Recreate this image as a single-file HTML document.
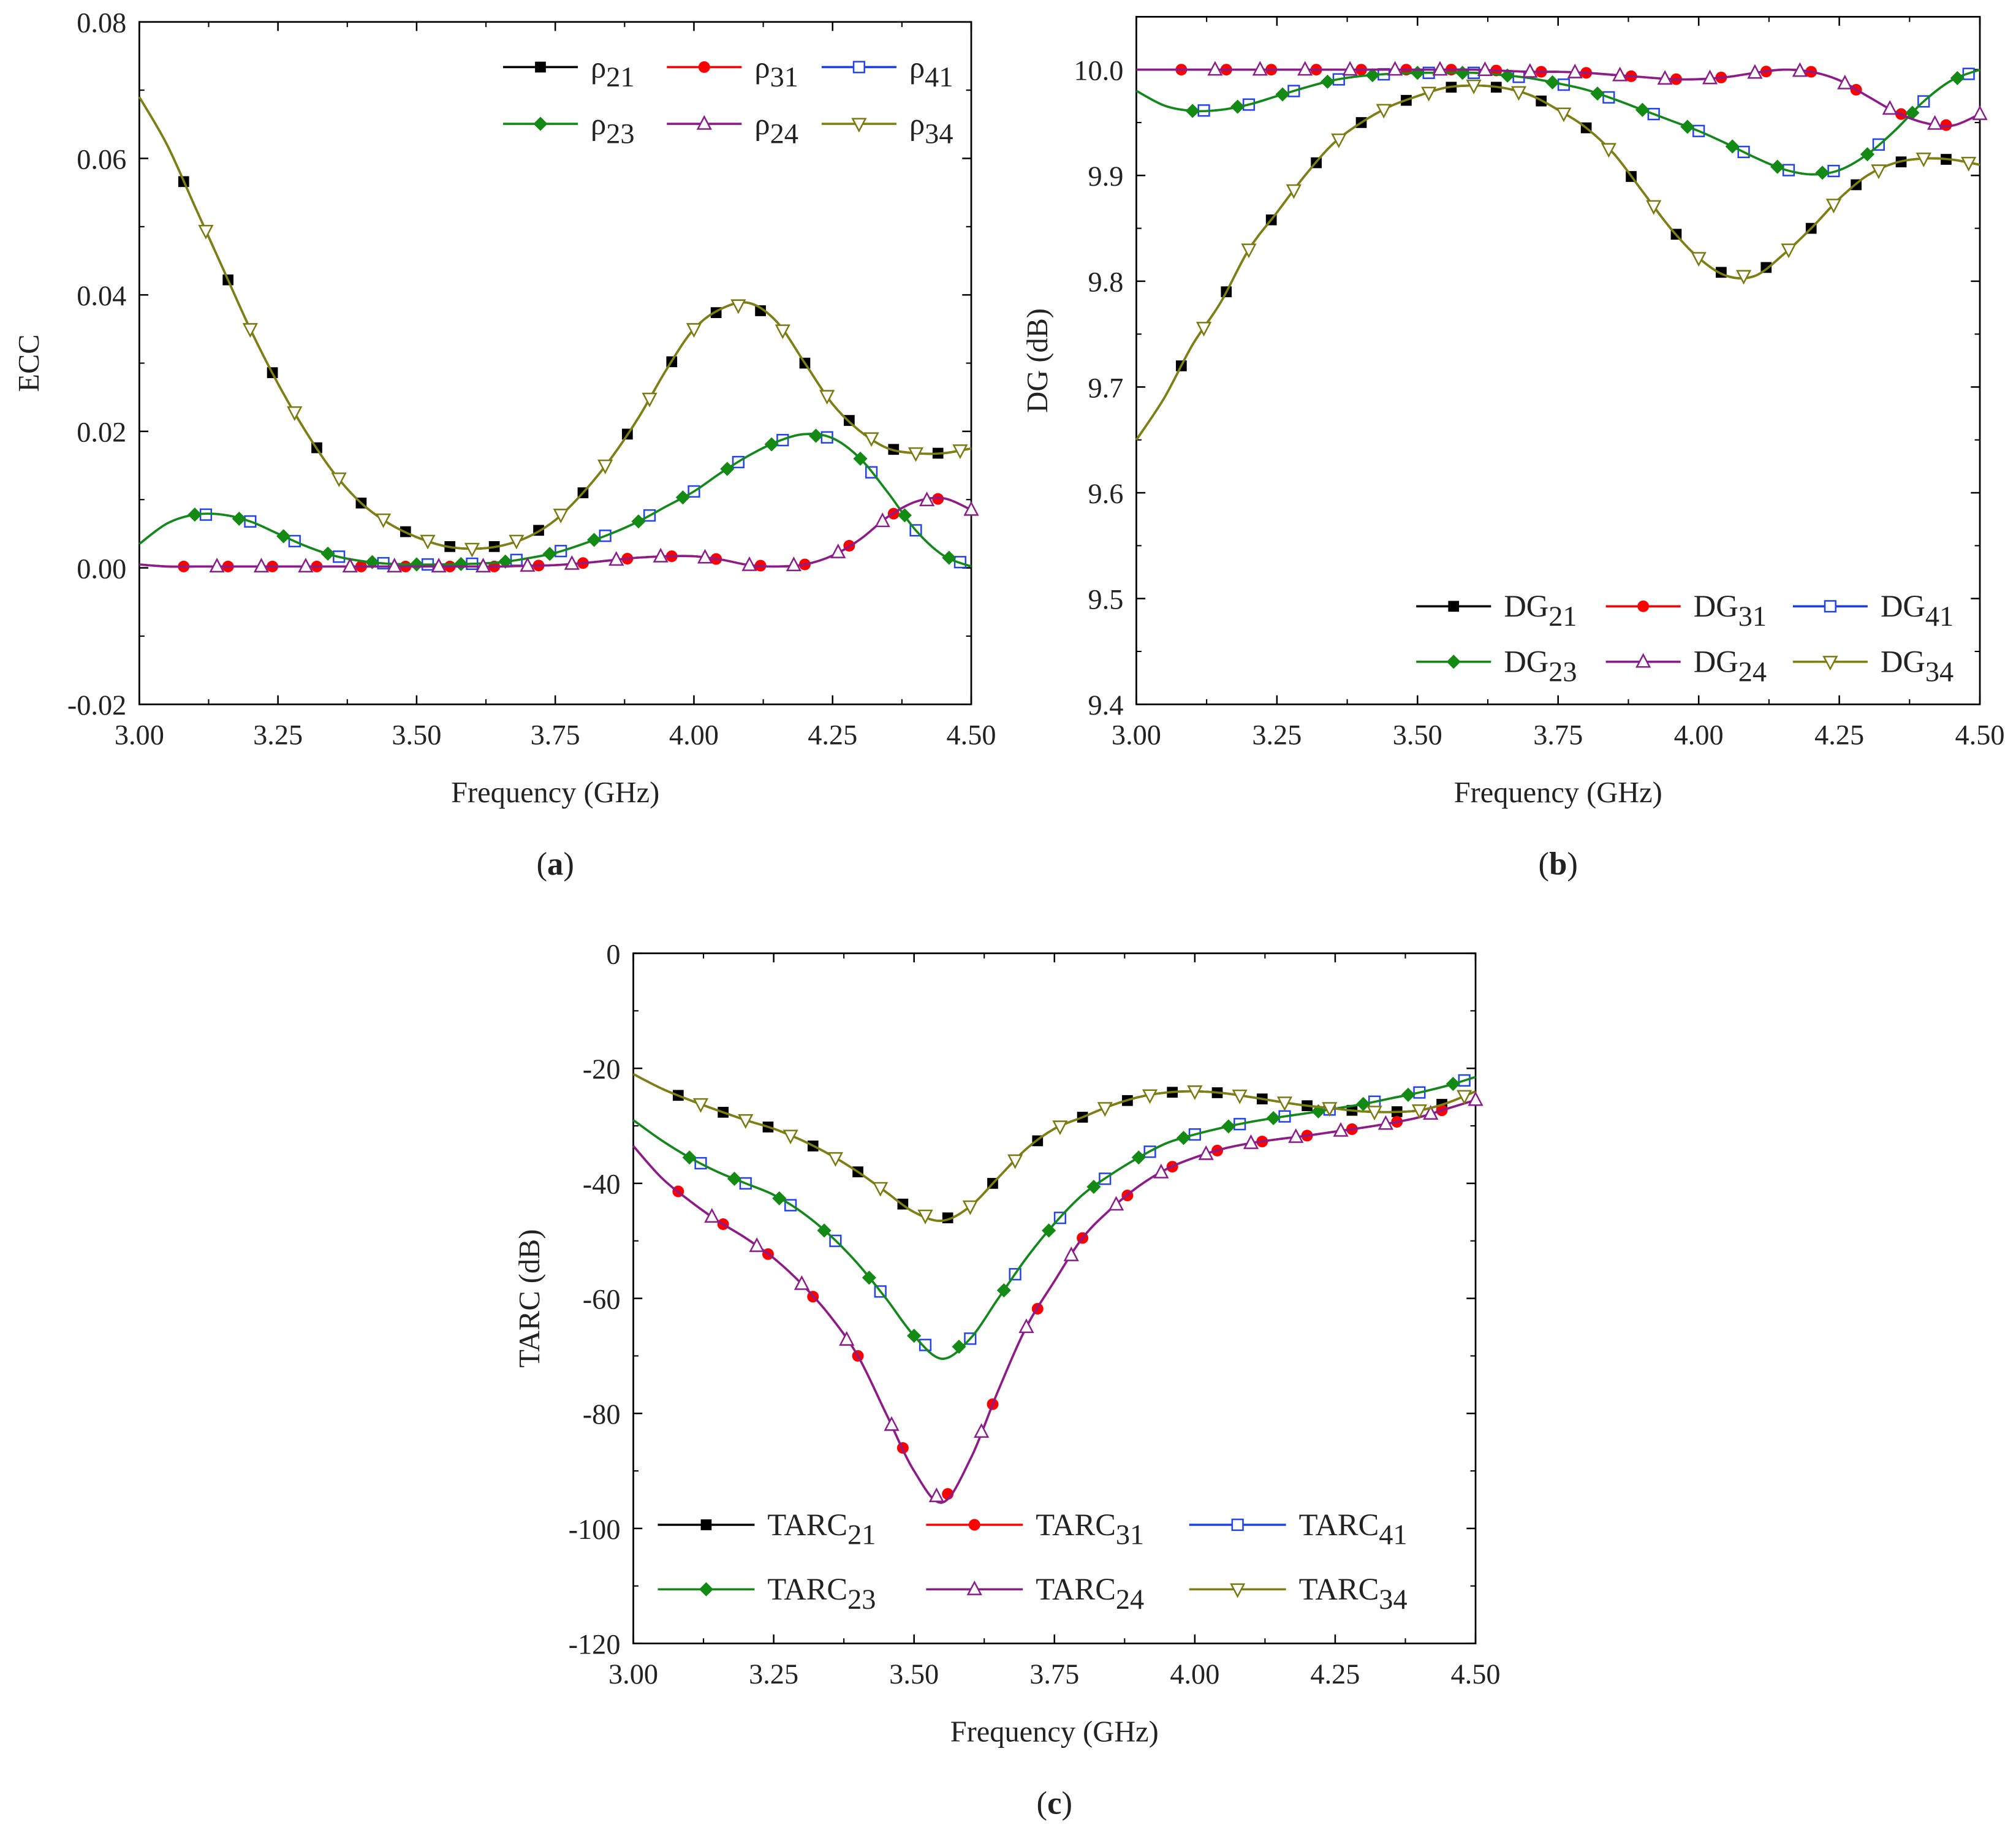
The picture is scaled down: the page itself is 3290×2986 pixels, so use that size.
<!DOCTYPE html>
<html><head><meta charset="utf-8">
<style>
html,body{margin:0;padding:0;background:#fff;}
svg{display:block;}
text{font-family:"Liberation Serif",serif;fill:#222;}
</style></head>
<body>
<svg id="fig" width="3290" height="2986" viewBox="0 0 1563 1418.6" xmlns="http://www.w3.org/2000/svg"></svg>
<script>
// ---------- data ----------
const freqs = [3.00,3.05,3.10,3.15,3.20,3.25,3.30,3.35,3.40,3.45,3.50,3.55,3.60,3.65,3.70,3.75,3.80,3.85,3.90,3.95,4.00,4.05,4.10,4.15,4.20,4.25,4.30,4.35,4.40,4.45,4.50];
const ecc21 = [0.069,0.062,0.053,0.044,0.035,0.027,0.020,0.014,0.0095,0.0065,0.0045,0.0032,0.0028,0.0032,0.0045,0.007,0.011,0.016,0.022,0.029,0.035,0.038,0.0388,0.036,0.030,0.024,0.020,0.0175,0.0168,0.0168,0.0175];
const ecc23 = [0.0035,0.0065,0.0078,0.0078,0.0068,0.005,0.0032,0.0018,0.001,0.0006,0.0005,0.0005,0.0006,0.0008,0.0014,0.0022,0.0035,0.005,0.0068,0.009,0.0112,0.014,0.0165,0.0185,0.0196,0.019,0.016,0.011,0.0055,0.0018,0.0002];
const ecc31 = [0.0005,0.0002,0.0002,0.0002,0.0002,0.0002,0.0002,0.0002,0.0002,0.0002,0.0002,0.0002,0.0002,0.0002,0.0003,0.0004,0.0007,0.0011,0.0015,0.0017,0.0017,0.0012,0.0004,0.0002,0.0005,0.0018,0.0042,0.0075,0.0097,0.0102,0.0085];
const dg21 = [9.65,9.69,9.74,9.78,9.83,9.865,9.9,9.93,9.95,9.965,9.975,9.983,9.985,9.983,9.976,9.962,9.945,9.92,9.885,9.85,9.822,9.805,9.805,9.825,9.85,9.878,9.9,9.912,9.916,9.915,9.91];
const dg23 = [9.98,9.966,9.961,9.962,9.967,9.975,9.983,9.99,9.994,9.996,9.997,9.997,9.997,9.995,9.992,9.987,9.981,9.972,9.962,9.952,9.942,9.93,9.917,9.906,9.901,9.905,9.92,9.943,9.97,9.99,10.0];
const dg31 = [10.0,10.0,10.0,10.0,10.0,10.0,10.0,10.0,10.0,10.0,10.0,10.0,10.0,9.999,9.998,9.998,9.997,9.995,9.993,9.991,9.991,9.993,9.997,10.0,9.998,9.99,9.975,9.96,9.95,9.947,9.958];
const tarc21 = [-21,-23.5,-25.5,-27.3,-29,-30.5,-32.5,-35,-38,-41.5,-45,-46.5,-44,-39,-34,-30.5,-28.5,-26.5,-25,-24.2,-24,-24.3,-25,-25.8,-26.5,-27,-27.5,-27.6,-27.3,-26,-24];
const tarc23 = [-29,-32.5,-35.5,-38,-40,-42,-45,-49,-54,-60,-66.5,-70.5,-67,-60,-53,-47,-42,-38.5,-35.5,-33,-31.5,-30.3,-29.3,-28.5,-27.8,-27,-26.2,-25.2,-24.2,-23,-21.5];
const tarc31 = [-33.5,-39,-43,-46.5,-49.5,-53,-57.5,-63,-70,-80,-90,-95.5,-88,-76,-65,-57,-49.5,-44.5,-40.5,-37.5,-35.5,-34,-33,-32.3,-31.7,-31,-30.3,-29.5,-28.5,-27,-25.5];
const xTicks = ["3.00","3.25","3.50","3.75","4.00","4.25","4.50"];
const eccTicks = ["-0.02","0.00","0.02","0.04","0.06","0.08"];
const dgTicks = ["9.4","9.5","9.6","9.7","9.8","9.9","10.0"];
const tarcTicks = ["-120","-100","-80","-60","-40","-20","0"];

// ---------- helpers ----------
const NS="http://www.w3.org/2000/svg";
const svg=document.getElementById('fig');
function mk(tag,attrs,parent){const e=document.createElementNS(NS,tag);for(const k in attrs)e.setAttribute(k,attrs[k]);(parent||svg).appendChild(e);return e;}
function interp(arr,f){
  const i=Math.min(freqs.length-2,Math.max(0,Math.floor((f-3.0)/0.05+1e-9)));
  const t=(f-freqs[i])/(freqs[i+1]-freqs[i]);return arr[i]+(arr[i+1]-arr[i])*t;}
function smoothPath(pts){
  let d=`M${pts[0][0]},${pts[0][1]}`;
  for(let i=0;i<pts.length-1;i++){
    const p0=pts[Math.max(0,i-1)],p1=pts[i],p2=pts[i+1],p3=pts[Math.min(pts.length-1,i+2)];
    const c1=[p1[0]+(p2[0]-p0[0])/6,p1[1]+(p2[1]-p0[1])/6];
    const c2=[p2[0]-(p3[0]-p1[0])/6,p2[1]-(p3[1]-p1[1])/6];
    d+=`C${c1[0]},${c1[1]} ${c2[0]},${c2[1]} ${p2[0]},${p2[1]}`;}
  return d;}
function marker(g,type,color,x,y){
  const s=4.2;let e;
  if(type==='sq'){e=mk('rect',{x:x-s,y:y-s,width:2*s,height:2*s,fill:'#000'},g);}
  else if(type==='circ'){e=mk('circle',{cx:x,cy:y,r:4.5,fill:'#f00'},g);}
  else if(type==='osq'){e=mk('rect',{x:x-s,y:y-s,width:2*s,height:2*s,fill:'#fff',stroke:'#2244ee','stroke-width':1.2},g);}
  else if(type==='dia'){e=mk('polygon',{points:`${x},${y-5.5} ${x+5.5},${y} ${x},${y+5.5} ${x-5.5},${y}`,fill:'#138a13'},g);}
  else if(type==='tri'){e=mk('polygon',{points:`${x},${y-5.5} ${x+5},${y+4} ${x-5},${y+4}`,fill:'#fff',stroke:'#8b1c8b','stroke-width':1.2},g);}
  else {e=mk('polygon',{points:`${x},${y+5.5} ${x+5},${y-4} ${x-5},${y-4}`,fill:'#fff',stroke:'#7a7a10','stroke-width':1.2},g);}
  
  
}
const styles=[
  {type:'sq',color:'#000',off:3.00},
  {type:'circ',color:'#f00',off:3.00},
  {type:'osq',color:'#1a3fe6',off:3.04},
  {type:'dia',color:'#138a13',off:3.02},
  {type:'tri',color:'#8b1c8b',off:3.06},
  {type:'inv',color:'#808010',off:3.04}];

function panel(cfg){
  const g=mk('g',{});
  
  
  const X=f=>cfg.x0+(f-3.0)/1.5*(cfg.x1-cfg.x0);
  const Y=v=>cfg.yb+(v-cfg.vmin)/(cfg.vmax-cfg.vmin)*(cfg.yt-cfg.yb);
  const fr=mk('rect',{x:cfg.x0,y:cfg.top,width:cfg.x1-cfg.x0,height:cfg.yb-cfg.top,fill:'none',stroke:'#000','stroke-width':1.3},g);
  
  xTicks.forEach((t,i)=>{const x=X(parseFloat(t));
    mk('line',{x1:x,y1:cfg.yb,x2:x,y2:cfg.yb-7,stroke:'#000','stroke-width':1.2},g);
    mk('line',{x1:x,y1:cfg.top,x2:x,y2:cfg.top+7,stroke:'#000','stroke-width':1.2},g);
    if(i<xTicks.length-1){const xm=X(parseFloat(t)+0.125);
      mk('line',{x1:xm,y1:cfg.yb,x2:xm,y2:cfg.yb-4,stroke:'#000','stroke-width':1},g);
      mk('line',{x1:xm,y1:cfg.top,x2:xm,y2:cfg.top+4,stroke:'#000','stroke-width':1},g);}
    const tx=mk('text',{x:x,y:cfg.yb+31,'font-size':22,'text-anchor':'middle'},g);tx.textContent=t;
    });
  cfg.ticks.forEach((t,i)=>{const v=parseFloat(t),y=Y(v);
    mk('line',{x1:cfg.x0,y1:y,x2:cfg.x0+7,y2:y,stroke:'#000','stroke-width':1.2},g);
    mk('line',{x1:cfg.x1,y1:y,x2:cfg.x1-7,y2:y,stroke:'#000','stroke-width':1.2},g);
    if(i<cfg.ticks.length-1){const ym=Y(v+cfg.step/2);
      mk('line',{x1:cfg.x0,y1:ym,x2:cfg.x0+4,y2:ym,stroke:'#000','stroke-width':1},g);
      mk('line',{x1:cfg.x1,y1:ym,x2:cfg.x1-4,y2:ym,stroke:'#000','stroke-width':1},g);}
    const tx=mk('text',{x:cfg.x0-10,y:y+8,'font-size':22,'text-anchor':'end'},g);tx.textContent=t;
    });
  const order=[0,1,2,3,4,5];
  const arrs=[cfg.a,cfg.c,cfg.b,cfg.b,cfg.c,cfg.a]; // 21,31,41,23,24,34
  order.forEach(k=>{
    const st=styles[k],arr=arrs[k];
    const pts=freqs.map((f,i)=>[X(f),Y(arr[i])]);
    const p=mk('path',{d:smoothPath(pts),fill:'none',stroke:st.color,'stroke-width':1.7},g);
    
    
    for(let f=st.off+0.08;f<4.5+1e-6;f+=0.08){marker(g,st.type,st.color,X(f),Y(interp(arr,f)));}
  });
  cfg.leg.forEach((L,k)=>{
    const st=styles[k];const lg=mk('g',{},g);
    
    
    mk('line',{x1:L[0],y1:L[1],x2:L[0]+cfg.legLen,y2:L[1],stroke:st.color,'stroke-width':1.7},lg);
    marker(lg,st.type,st.color,L[0]+cfg.legLen/2,L[1]);
    const t=mk('text',{x:L[0]+cfg.legLen+10,y:L[1]+8,'font-size':24},lg);
    const a=mk('tspan',{},t);a.textContent=cfg.prefix;
    const b=mk('tspan',{dy:7,'font-size':22},t);b.textContent=cfg.labels[k];
  });
  let t=mk('text',{x:(cfg.x0+cfg.x1)/2,y:cfg.yb+76,'font-size':23,'text-anchor':'middle'},g);t.textContent='Frequency (GHz)';
  
  t=mk('text',{x:0,y:0,'font-size':23,'text-anchor':'middle',transform:`translate(${cfg.ytx},${(cfg.top+cfg.yb)/2}) rotate(-90)`},g);t.textContent=cfg.ytitle;
  
  t=mk('text',{x:(cfg.x0+cfg.x1)/2,y:cfg.yb+132,'font-size':25,'text-anchor':'middle'},g);
  const p1=mk('tspan',{},t);p1.textContent='(';const p2=mk('tspan',{'font-weight':'bold'},t);p2.textContent=cfg.tag;const p3=mk('tspan',{},t);p3.textContent=')';
  
}
const labels=['21','31','41','23','24','34'];
panel({name:'ecc-chart',x0:108,x1:753,top:17,yt:17,yb:546,vmin:-0.02,vmax:0.08,ticks:eccTicks,step:0.02,
  a:ecc21,b:ecc23,c:ecc31,labels:labels,prefix:'ρ',legLen:58,
  leg:[[390,52],[517,52],[637,52],[390,96],[517,96],[637,96]],ytitle:'ECC',ytx:30,tag:'a'});
panel({name:'dg-chart',x0:881,x1:1535,top:13,yt:54,yb:546,vmin:9.4,vmax:10.0,ticks:dgTicks,step:0.1,
  a:dg21,b:dg23,c:dg31,labels:labels,prefix:'DG',legLen:58,
  leg:[[1098,470],[1245,470],[1390,470],[1098,513],[1245,513],[1390,513]],ytitle:'DG (dB)',ytx:812,tag:'b'});
panel({name:'tarc-chart',x0:491,x1:1144,top:739,yt:739,yb:1274,vmin:-120,vmax:0,ticks:tarcTicks,step:20,
  a:tarc21,b:tarc23,c:tarc31,labels:labels,prefix:'TARC',legLen:75,
  leg:[[510,1182],[718,1182],[922,1182],[510,1232],[718,1232],[922,1232]],ytitle:'TARC (dB)',ytx:418,tag:'c'});
</script>
</body></html>
